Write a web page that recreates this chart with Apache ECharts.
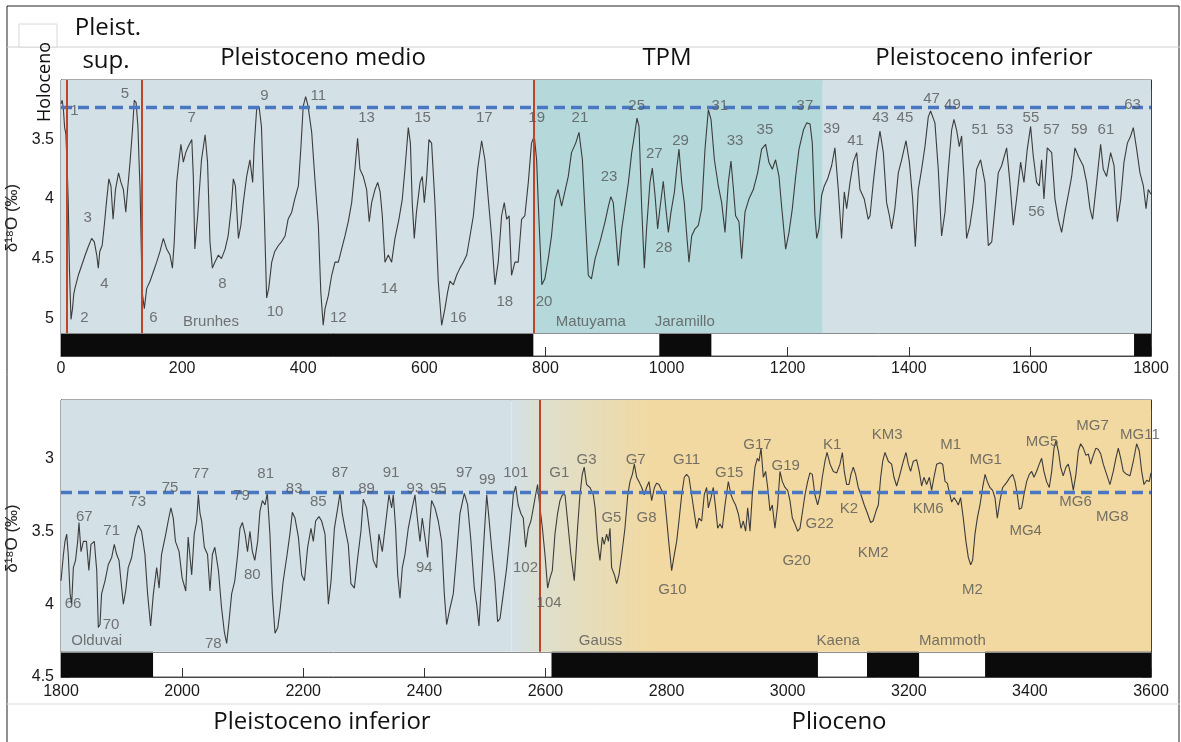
<!DOCTYPE html>
<html><head><meta charset="utf-8">
<script src="https://cdn.jsdelivr.net/npm/echarts@6/dist/echarts.min.js"></script>
<style>html,body{margin:0;padding:0;background:#fff}#c{width:1181px;height:742px}</style>
</head><body><div id="c"></div>
<script>
// ---------------- DATA ----------------
const topCurve = [[0,3.2],[2,3.17],[4,3.25],[6,3.4],[8,3.45],[10,3.7],[12,4.03],[14,4.6],[16.5,5.01],[19,4.92],[21,4.8],[23,4.75],[28.6,4.64],[34,4.56],[40,4.47],[45,4.4],[50.6,4.33],[55,4.36],[59,4.47],[61.6,4.58],[64,4.44],[68,4.39],[71.5,4.22],[75,4.03],[79,3.83],[82.5,3.89],[86,4.17],[90,3.92],[95,3.78],[99,3.86],[103,3.92],[107,4.11],[110,3.92],[114,3.69],[118,3.42],[121,3.17],[124,3.19],[127,3.39],[129,3.7],[130.5,3.9],[132.5,4.4],[134,4.78],[137.6,4.92],[141.5,4.75],[147,4.69],[152.5,4.61],[158,4.53],[163.5,4.44],[169,4.33],[174.5,4.42],[180,4.47],[184,4.58],[187,4.36],[191,3.86],[195,3.67],[198,3.54],[202,3.69],[206,3.61],[210,3.56],[216,3.5],[218.5,3.81],[221,4.42],[225.7,4.14],[232,3.67],[238,3.46],[242,3.69],[246,4.36],[250,4.58],[254,4.53],[260,4.47],[265,4.5],[271,4.42],[276,4.31],[281,4.08],[284.6,3.83],[288,3.89],[293,4.33],[297,4.22],[301,4.03],[306.6,3.81],[312,3.67],[316.5,3.86],[319,3.56],[323,3.25],[327,3.22],[331,3.39],[335.8,4.14],[339.6,4.83],[343,4.75],[348,4.53],[353,4.44],[359,4.39],[364,4.36],[370,4.31],[375,4.17],[381,4.11],[386,4.0],[392,3.89],[396,3.58],[400,3.22],[404,3.14],[408,3.22],[414,3.44],[419,3.81],[425,4.22],[429,4.78],[433,5.06],[436,4.92],[441.5,4.81],[447,4.64],[452.5,4.53],[458,4.53],[463.4,4.42],[469,4.31],[474.4,4.19],[480,4.03],[484.3,3.81],[489.8,3.49],[493.7,3.75],[499.2,3.81],[504.7,3.92],[509,4.19],[513,4.03],[518.5,3.92],[523,3.86],[527,3.94],[530.6,4.14],[535,4.53],[540.5,4.47],[546,4.53],[551.5,4.33],[558,4.17],[563.6,4.0],[568,3.75],[573.5,3.4],[577,3.53],[580,4.03],[583.4,4.33],[587,4.11],[593,3.86],[596.6,3.81],[600,4.03],[604,3.81],[607.6,3.5],[612,3.53],[617.5,4.03],[623,4.69],[628.6,5.06],[634,4.92],[638.5,4.78],[642.3,4.69],[648,4.72],[653.3,4.64],[658.8,4.58],[664.3,4.53],[670,4.47],[675.4,4.31],[681,4.14],[688,3.75],[694.6,3.51],[700,3.67],[705.6,4.0],[711,4.31],[716.6,4.72],[722,4.53],[727.6,4.14],[732,4.03],[736,4.17],[740,4.14],[744,4.64],[749.6,4.53],[755,4.53],[760.6,4.17],[766,4.14],[771.7,3.86],[777,3.53],[781.6,3.47],[785.4,3.67],[789,4.14],[794,4.72],[799,4.67],[804.7,4.5],[810,4.31],[815.7,4.0],[821,3.92],[826.7,4.06],[832,3.94],[837.7,3.81],[843,3.61],[850,3.53],[855.4,3.44],[861,3.67],[865,4.08],[870.8,4.64],[876,4.67],[882,4.5],[890,4.36],[898.5,4.19],[904,4.06],[908,3.98],[912,4.03],[916,4.28],[920.3,4.56],[926,4.25],[931.4,4.06],[937,3.86],[942.4,3.61],[946.8,3.47],[951.2,3.32],[954.5,3.39],[959,4.08],[963.3,4.58],[967,4.25],[972.6,3.86],[976.5,3.74],[981,3.97],[985.3,4.25],[989,4.08],[994.6,3.85],[998.5,4.06],[1003,4.28],[1007.3,4.11],[1013,3.94],[1016.7,3.75],[1020.5,3.58],[1025,3.86],[1029.3,4.03],[1033,4.28],[1037,4.53],[1041.5,4.31],[1047,4.25],[1052.5,4.22],[1058,4.08],[1063.5,3.58],[1069,3.25],[1073.4,3.33],[1079,3.67],[1085.5,3.89],[1091,4.03],[1096.5,4.28],[1102,3.86],[1106.4,3.68],[1110,3.89],[1114,4.14],[1119.6,4.19],[1124,4.5],[1129.5,4.11],[1136,4.0],[1143.3,3.92],[1150.4,3.78],[1157,3.58],[1163.6,3.54],[1169,3.69],[1174.6,3.75],[1180,3.67],[1185.7,3.81],[1190,4.06],[1196.7,4.42],[1202.2,4.28],[1207.7,4.08],[1213.2,3.81],[1218.7,3.58],[1226,3.42],[1231.4,3.36],[1237,3.37],[1240.7,3.53],[1245,4.14],[1248,4.33],[1251.7,4.25],[1256,3.97],[1260.5,3.89],[1266,3.83],[1272.6,3.72],[1278,3.57],[1283.6,3.92],[1289,4.33],[1293.5,3.94],[1297.4,4.08],[1303,3.86],[1308.4,3.69],[1314,3.61],[1319.4,3.92],[1326.5,4.0],[1333,4.17],[1336,4.14],[1341.4,3.86],[1347,3.61],[1352.4,3.43],[1358,3.61],[1363.4,4.03],[1368,4.14],[1371.7,4.25],[1377,4.08],[1382.7,3.78],[1388.2,3.67],[1395.4,3.51],[1401,3.69],[1406.4,4.0],[1410.8,4.4],[1415.7,3.92],[1421.2,3.75],[1426.7,3.56],[1432.2,3.31],[1436,3.26],[1443.2,3.36],[1448.7,3.75],[1454.2,4.31],[1459.8,4.11],[1465.3,3.75],[1470.8,3.42],[1474.6,3.33],[1479,3.42],[1483.4,3.56],[1487.3,3.47],[1491,3.81],[1495.5,4.33],[1501,4.22],[1506.5,4.03],[1512,3.75],[1518.6,3.67],[1525.8,3.86],[1531.3,4.39],[1537,4.36],[1542.3,4.08],[1547.8,3.78],[1553.3,3.72],[1561.6,3.57],[1567,3.86],[1572.6,4.22],[1578,4.0],[1584.7,3.69],[1590.2,3.86],[1595.7,3.58],[1601.2,3.39],[1605.6,3.64],[1611.1,3.86],[1615.5,3.89],[1619.4,3.67],[1623.2,4.0],[1628.7,3.57],[1636,3.61],[1641.4,4.0],[1647,4.17],[1652.4,4.28],[1658,4.11],[1665,3.92],[1669,3.81],[1674.4,3.57],[1680,3.64],[1688,3.72],[1693.7,3.86],[1699.2,4.08],[1703.6,4.17],[1710.2,3.86],[1716.8,3.54],[1721.2,3.75],[1726.7,3.81],[1733.3,3.61],[1739,3.72],[1744.4,4.19],[1750,4.0],[1755.4,3.69],[1761,3.53],[1766.4,3.47],[1770.8,3.4],[1776.3,3.58],[1781.8,3.78],[1787.4,3.89],[1791.8,4.08],[1795.5,3.92],[1800,3.96]];

const bottomCurve = [[1800,3.84],[1804,3.66],[1806.6,3.57],[1809.4,3.52],[1812,3.66],[1815,3.93],[1817.6,4.0],[1820.4,3.75],[1824,3.7],[1827.5,3.57],[1829.7,3.44],[1833,3.64],[1837,3.57],[1842,3.57],[1846,3.77],[1849.5,3.59],[1855,3.57],[1859,3.77],[1861.6,4.16],[1864.4,4.14],[1867,3.93],[1872.7,3.84],[1878,3.73],[1883.7,3.68],[1888,3.59],[1892,3.66],[1895.8,3.7],[1899,3.84],[1903,4.0],[1906.8,3.91],[1911,3.75],[1916.7,3.68],[1922,3.54],[1927.7,3.46],[1933,3.5],[1938.6,3.66],[1943,3.93],[1948,4.15],[1952.5,3.93],[1958,3.75],[1962,3.89],[1966,3.66],[1973,3.52],[1977,3.43],[1981.5,3.34],[1985.4,3.41],[1989,3.57],[1995,3.64],[2000,3.82],[2006,3.91],[2010,3.54],[2015.8,3.8],[2020,3.52],[2024,3.43],[2026.8,3.25],[2029.6,3.38],[2032.3,3.43],[2036.7,3.61],[2042,3.66],[2046,3.91],[2050,3.66],[2054,3.61],[2060,3.77],[2065,4.02],[2069.7,4.19],[2073.6,4.27],[2077.4,4.12],[2081.8,3.93],[2087,3.84],[2091.7,3.66],[2095.6,3.48],[2099.5,3.44],[2104,3.52],[2108,3.64],[2112,3.5],[2116,3.64],[2120,3.7],[2124.8,3.57],[2128.6,3.36],[2132.6,3.29],[2137,3.32],[2140.7,3.24],[2145,3.52],[2149,3.93],[2153.4,4.2],[2158,4.16],[2161.6,4.05],[2167,3.84],[2172.7,3.68],[2178,3.52],[2182,3.37],[2186.4,3.41],[2192,3.54],[2197.5,3.8],[2202,3.84],[2207.3,3.61],[2212.8,3.48],[2216.7,3.57],[2220.5,3.43],[2226,3.4],[2230.4,3.43],[2236,3.52],[2241.5,4.0],[2246,3.84],[2251.5,3.48],[2257,3.34],[2260.7,3.24],[2264.5,3.38],[2269,3.48],[2274.4,3.59],[2278.8,3.86],[2284.4,3.89],[2290,3.68],[2295.3,3.5],[2299.2,3.28],[2304.7,3.34],[2310.2,3.52],[2315.7,3.7],[2321.2,3.75],[2325,3.52],[2330.6,3.64],[2336,3.45],[2341.6,3.25],[2346,3.34],[2348.7,3.25],[2352.6,3.48],[2356,3.8],[2359.8,3.96],[2363.6,3.75],[2368,3.66],[2373.5,3.48],[2380,3.34],[2384.5,3.25],[2389,3.43],[2392.8,3.57],[2396.6,3.41],[2401,3.54],[2405.4,3.68],[2409.3,3.43],[2412,3.29],[2417.5,3.34],[2423,3.43],[2428.6,3.57],[2433,3.93],[2436.8,4.14],[2442.3,4.03],[2447.8,3.93],[2453.3,3.66],[2458.8,3.38],[2466,3.24],[2471.5,3.32],[2477,3.57],[2482.5,3.89],[2486.4,4.0],[2490.2,4.15],[2494.6,3.84],[2499,3.52],[2503,3.25],[2506.7,3.41],[2511,3.61],[2516.6,3.84],[2521,4.12],[2525,4.1],[2530.4,3.93],[2536,3.75],[2541.4,3.52],[2547,3.25],[2550.8,3.19],[2555,3.32],[2559.6,3.38],[2563.4,3.41],[2567.3,3.61],[2571.7,3.48],[2576,3.43],[2580,3.34],[2583.8,3.25],[2587,3.18],[2591,3.34],[2595,3.48],[2599.2,3.66],[2603.6,3.89],[2607.5,3.82],[2611.3,3.77],[2615.7,3.52],[2620,3.38],[2624,3.29],[2628,3.25],[2632.3,3.25],[2636.6,3.43],[2642,3.66],[2647.6,3.84],[2653,3.48],[2657,3.25],[2660.8,3.11],[2664,3.06],[2668,3.18],[2673.5,3.2],[2679,3.25],[2682,3.34],[2686,3.57],[2690,3.7],[2694,3.54],[2697,3.59],[2701,3.52],[2704,3.57],[2706.6,3.48],[2709.3,3.75],[2714,3.8],[2717.6,3.86],[2721.4,3.8],[2726,3.66],[2731.3,3.48],[2736,3.25],[2739.6,3.16],[2743.5,3.11],[2746.8,3.04],[2750.6,3.13],[2754.5,3.16],[2759,3.2],[2763.3,3.25],[2767,3.2],[2771,3.16],[2775.4,3.29],[2780,3.2],[2783.6,3.17],[2787.5,3.18],[2792,3.22],[2796.3,3.25],[2800,3.41],[2804,3.59],[2808.4,3.77],[2812.8,3.66],[2816.7,3.57],[2820.5,3.43],[2825,3.25],[2829.3,3.13],[2833.2,3.11],[2837,3.13],[2841.4,3.25],[2846,3.38],[2849.7,3.48],[2853.5,3.41],[2858,3.43],[2862.3,3.25],[2866.2,3.2],[2869,3.34],[2873.4,3.27],[2877.2,3.2],[2881,3.34],[2884.4,3.48],[2888.2,3.45],[2892,3.48],[2896.5,3.32],[2902,3.16],[2906.4,3.25],[2910.2,3.29],[2914,3.32],[2918.5,3.38],[2923,3.48],[2926.7,3.43],[2930.6,3.5],[2934,3.34],[2937.8,3.5],[2941.6,3.25],[2946,3.06],[2949.9,3.0],[2952.6,3.02],[2956,2.93],[2959.8,3.13],[2963.6,3.09],[2967,3.2],[2970.8,3.36],[2974.6,3.32],[2979,3.48],[2983.5,3.32],[2987.3,3.09],[2991.2,3.16],[2995.6,3.2],[3000,3.22],[3003.8,3.29],[3007.7,3.41],[3012,3.45],[3016.5,3.5],[3020.3,3.48],[3024,3.38],[3028.6,3.25],[3033,3.16],[3036.8,3.1],[3040.7,3.11],[3045,3.25],[3049.5,3.32],[3053.4,3.25],[3057.2,3.13],[3061.6,3.02],[3065,2.96],[3070,3.04],[3075.4,3.09],[3081,3.1],[3086.4,3.04],[3090.3,2.96],[3093.5,3.09],[3097.4,3.18],[3101.2,3.18],[3104.5,3.11],[3108.4,3.06],[3112.2,3.11],[3116.6,3.2],[3121,3.25],[3126.5,3.32],[3132,3.38],[3137,3.44],[3141,3.43],[3146,3.36],[3149.7,3.32],[3153.6,3.13],[3157,3.02],[3160.7,2.96],[3166.2,3.02],[3171.7,3.04],[3175.5,3.13],[3180,3.19],[3185.4,3.11],[3191,3.02],[3195.4,2.96],[3199.2,3.04],[3203,3.09],[3207.5,3.02],[3213,3.01],[3217.3,3.09],[3221.2,3.19],[3225,3.13],[3229.5,3.18],[3234,3.13],[3237.7,3.22],[3241.6,3.13],[3246,3.04],[3251.5,3.03],[3256,3.04],[3260,3.16],[3263.6,3.17],[3268,3.25],[3270.8,3.3],[3274.6,3.27],[3278,3.29],[3281.8,3.32],[3285.6,3.27],[3290,3.41],[3294.4,3.57],[3298.3,3.68],[3302.2,3.73],[3305.4,3.7],[3309.3,3.52],[3313.2,3.41],[3317.6,3.32],[3322,3.2],[3326,3.11],[3329.7,3.16],[3334,3.2],[3338.5,3.22],[3342.3,3.27],[3346.2,3.41],[3350.6,3.29],[3355,3.2],[3358.8,3.18],[3362.7,3.16],[3367,3.13],[3371.5,3.11],[3375.4,3.16],[3379.2,3.25],[3382.5,3.35],[3386.4,3.34],[3390.2,3.25],[3394.6,3.16],[3399,3.11],[3403,3.09],[3406.7,3.13],[3411,3.09],[3415.5,3.04],[3419.4,3.0],[3423.2,3.09],[3427.6,3.16],[3432,3.2],[3436,3.09],[3439.8,2.93],[3443,2.88],[3447,2.95],[3450.8,3.06],[3455,3.12],[3459.6,3.06],[3463.4,3.04],[3467.3,3.11],[3471.7,3.22],[3476,3.11],[3480,2.95],[3483.8,2.9],[3488.2,2.93],[3492.6,2.98],[3496.5,2.97],[3500.3,3.04],[3504.7,2.98],[3509,2.93],[3513,2.94],[3517,2.97],[3521.2,3.04],[3526.7,3.11],[3532.2,3.18],[3537.7,3.09],[3542,3.0],[3546,2.93],[3550,3.0],[3554.2,3.09],[3559.8,3.11],[3565.3,3.12],[3570.8,3.02],[3576.3,2.9],[3580.7,2.95],[3584.6,3.09],[3588.4,3.18],[3592.9,3.15],[3597,3.16],[3600,3.1]];

const topXRange = [0, 1800];
const bottomXRange = [1800, 3600];
const xTickStep = 200;
const topYRange = [3.0, 5.318];
const bottomYRange = [2.6, 4.5];
const topYLabels = [3.5, 4, 4.5, 5];
const bottomYLabels = [3, 3.5, 4, 4.5];
const topPlotFloor = 5.125;     // value where the polarity bar begins
const bottomPlotFloor = 4.327;
const holoceneLevel = 3.23;
const topZones = [[0, 780], [780, 1258], [1258, 1800]];
const bottomZones = [[1800, 2544], [2544, 3600]];
const bottomTransition = [2544, 2780];   // Pleistocene -> Pliocene colour fade
const topNormalPolarity = [[0, 780], [988, 1074], [1772, 1800]];
const bottomNormalPolarity = [[1800, 1952], [2610, 3050], [3131, 3217], [3326, 3600]];
const topBoundaries = [9.5, 133, 780];
const bottomBoundaries = [2590];
const topStageLabels = [[22,3.26,'1'],[38.5,5.0,'2'],[44,4.16,'3'],[71.5,4.71,'4'],[105.7,3.12,'5'],[152.5,5.0,'6'],[215.8,3.32,'7'],[266.4,4.71,'8'],[335.8,3.13,'9'],[353.4,4.95,'10'],[425,3.13,'11'],[458,5.0,'12'],[504.7,3.32,'13'],[542,4.75,'14'],[597,3.32,'15'],[656,5.0,'16'],[699,3.32,'17'],[733,4.86,'18'],[785.5,3.32,'19'],[797.6,4.86,'20'],[857,3.32,'21'],[905,3.81,'23'],[950.6,3.22,'25'],[979.7,3.62,'27'],[995.7,4.41,'28'],[1023,3.51,'29'],[1088,3.22,'31'],[1113,3.51,'33'],[1162.5,3.42,'35'],[1228.5,3.22,'37'],[1272.6,3.41,'39'],[1312,3.51,'41'],[1353.5,3.32,'43'],[1393.6,3.32,'45'],[1437.7,3.16,'47'],[1472,3.21,'49'],[1517.5,3.42,'51'],[1558.8,3.42,'53'],[1601.7,3.32,'55'],[1611,4.11,'56'],[1635.8,3.42,'57'],[1681.5,3.42,'59'],[1725.5,3.42,'61'],[1769.6,3.21,'63']];
const bottomStageLabels = [[1820,4.0,'66'],[1838.5,3.40,'67'],[1882.6,4.14,'70'],[1883.7,3.50,'71'],[1926.6,3.30,'73'],[1980,3.20,'75'],[2030.7,3.11,'77'],[2051.5,4.27,'78'],[2098,3.26,'79'],[2116,3.80,'80'],[2138,3.11,'81'],[2185,3.21,'83'],[2225,3.30,'85'],[2260.7,3.10,'87'],[2304.7,3.21,'89'],[2345,3.10,'91'],[2384.5,3.21,'93'],[2400,3.75,'94'],[2423,3.21,'95'],[2466,3.10,'97'],[2504,3.15,'99'],[2551,3.10,'101'],[2567,3.75,'102'],[2606,3.99,'104'],[2623,3.10,'G1'],[2668,3.01,'G3'],[2709,3.41,'G5'],[2749,3.01,'G7'],[2767,3.41,'G8'],[2809.5,3.90,'G10'],[2833,3.01,'G11'],[2903.6,3.10,'G15'],[2950,2.91,'G17'],[2996.7,3.05,'G19'],[3014.8,3.70,'G20'],[3053,3.45,'G22'],[3073.6,2.91,'K1'],[3101,3.35,'K2'],[3141,3.65,'KM2'],[3164.5,2.84,'KM3'],[3232,3.35,'KM6'],[3269,2.91,'M1'],[3305,3.90,'M2'],[3327,3.01,'MG1'],[3393,3.50,'MG4'],[3420,2.89,'MG5'],[3475.5,3.30,'MG6'],[3503.5,2.78,'MG7'],[3536,3.40,'MG8'],[3581.7,2.84,'MG11']];
const topChronLabels = [[247.7,5.03,'Brunhes'],[875,5.03,'Matuyama'],[1030,5.03,'Jaramillo']];
const bottomChronLabels = [[1859,4.25,'Olduvai'],[2691,4.25,'Gauss'],[3083.5,4.25,'Kaena'],[3272,4.25,'Mammoth']];

// ---------------- STYLE ----------------
const SANS = '"Liberation Sans", Arial, Helvetica, sans-serif';
const TITLE = '"Open Sans", "Noto Sans", sans-serif';
const C_BLUE = '#d3e0e6', C_TEAL = '#b5d8da', C_ORANGE = '#f2d9a1';
const topZoneColors = [C_BLUE, C_TEAL, C_BLUE];
const fadeSpan = bottomZones[1][1] - bottomZones[1][0];
const fadeEnd = (bottomTransition[1] - bottomZones[1][0]) / fadeSpan;
const bottomZoneColors = [C_BLUE,
  {type:'linear', x:0, y:0, x2:1, y2:0, colorStops:[
    {offset:0, color:C_BLUE}, {offset:fadeEnd*0.25, color:'#dfdfcb'}, {offset:fadeEnd, color:C_ORANGE}, {offset:1, color:C_ORANGE}]}];

function zoneAreas(zones, colors, y0, y1) {
  return zones.map((z, i) => [{xAxis: z[0], yAxis: y0, itemStyle: {color: colors[i]}}, {xAxis: z[1], yAxis: y1}]);
}
function polAreas(zones, y0, y1) {
  return zones.map(z => [{xAxis: z[0], yAxis: y0, itemStyle: {color: '#0b0b0b'}}, {xAxis: z[1], yAxis: y1}]);
}
function xAx(grid, range, pos, showLabel, margin) {
  return {type:'value', gridIndex:grid, min:range[0], max:range[1], interval:xTickStep, position:pos,
    axisLine:{show: pos === 'bottom', onZero:false, lineStyle:{color:'#444', width:1}},
    axisTick:{show:true, inside:true, length:9, lineStyle:{color:'#333', width:1}},
    axisLabel:{show:showLabel, fontSize:16, color:'#1a1a1a', fontFamily:SANS, margin:margin, formatter: v => String(v)},
    splitLine:{show:false}};
}
function yAx(grid, range, pos, labels, showLabel) {
  return {type:'value', gridIndex:grid, min:range[0], max:range[1], inverse:true, position:pos,
    axisLine:{show:true, onZero:false, lineStyle:{color:'#444', width:1}},
    axisTick:{show:true, inside:true, length:9, customValues:labels, lineStyle:{color:'#333', width:1}},
    axisLabel:{show:showLabel, customValues:labels, fontSize:16, color:'#1a1a1a', fontFamily:SANS, margin:7, formatter: v => String(v)},
    splitLine:{show:false},
    name: showLabel ? 'δ¹⁸O (‰)' : '', nameLocation:'middle', nameGap:30, nameRotate:90,
    nameTextStyle:{fontSize:17, color:'#222', fontFamily:SANS}};
}
function labelSeries(xi, yi, items) {
  return {type:'scatter', xAxisIndex:xi, yAxisIndex:yi, z:5, silent:true, symbol:'circle', symbolSize:0,
    itemStyle:{color:'rgba(0,0,0,0)'},
    data: items.map(s => ({value:[s[0], s[1]], name:s[2]})),
    label:{show:true, position:'inside', formatter:'{b}', fontSize:15, color:'#555', fontFamily:SANS,
      align:'center', verticalAlign:'middle'},
    emphasis:{disabled:true}};
}
function panelSeries(xi, yi, curve, zones, zoneColors, pol, floor, yRange, bounds, stages, chrons) {
  return [
    {type:'line', xAxisIndex:xi, yAxisIndex:yi, data:[], z:1, silent:true,
      markArea:{silent:true, data: zoneAreas(zones, zoneColors, yRange[0], floor).concat(polAreas(pol, floor, yRange[1]))}},
    {type:'line', xAxisIndex:xi, yAxisIndex:yi, data:curve, z:3, showSymbol:false, symbol:'none', silent:true,
      lineStyle:{color:'#3c3c3c', width:1.1}},
    {type:'line', xAxisIndex:xi, yAxisIndex:yi, data:[], z:4, silent:true,
      markLine:{silent:true, symbol:['none','none'], label:{show:false},
        data: [
          {yAxis: floor, lineStyle:{color:'#8c8c8c', width:1, type:'solid'}},
          {yAxis: holoceneLevel, lineStyle:{color:'#4a77c2', width:3.3, type:[11,6]}}
        ].concat(bounds.map(b => [{coord:[b, yRange[0]], lineStyle:{color:'#bf4526', width:2, type:'solid'}}, {coord:[b, floor]}]))}},
    labelSeries(xi, yi, stages),
    labelSeries(xi, yi, chrons)
  ];
}

function txt(x, y, text, size, rot) {
  return {type:'text', x:x, y:y, rotation: rot || 0, z:100,
    style:{text:text, font: size + 'px ' + TITLE, fill:'#111', textAlign:'center', textVerticalAlign:'middle'}};
}

const chart = echarts.init(document.getElementById('c'), null, {renderer:'canvas'});
chart.setOption({
  animation:false,
  backgroundColor:'#ffffff',
  grid:[
    {left:61, right:30, top:80, height:276, show:true, borderColor:'#555', borderWidth:1, backgroundColor:'transparent', containLabel:false, outerBoundsMode:'none'},
    {left:61, right:30, top:400, height:277, show:true, borderColor:'#555', borderWidth:1, backgroundColor:'transparent', containLabel:false, outerBoundsMode:'none'}
  ],
  xAxis:[ xAx(0, topXRange, 'bottom', true, 5), xAx(0, topXRange, 'top', false, 5),
          xAx(1, bottomXRange, 'bottom', true, 7), xAx(1, bottomXRange, 'top', false, 7) ],
  yAxis:[ yAx(0, topYRange, 'left', topYLabels, true), yAx(0, topYRange, 'right', topYLabels, false),
          yAx(1, bottomYRange, 'left', bottomYLabels, true), yAx(1, bottomYRange, 'right', bottomYLabels, false) ],
  series: panelSeries(0, 0, topCurve, topZones, topZoneColors, topNormalPolarity, topPlotFloor, topYRange, topBoundaries, topStageLabels, topChronLabels)
    .concat(panelSeries(2, 2, bottomCurve, bottomZones, bottomZoneColors, bottomNormalPolarity, bottomPlotFloor, bottomYRange, bottomBoundaries, bottomStageLabels, bottomChronLabels)),
  graphic:[
    {type:'rect', shape:{x:7, y:6, width:1172, height:745}, style:{fill:'none', stroke:'#222', lineWidth:1}, z:90, silent:true},
    {type:'line', shape:{x1:7, y1:47, x2:1180, y2:47}, style:{stroke:'#cfcfcf', lineWidth:1}, z:90, silent:true},
    {type:'line', shape:{x1:7, y1:704, x2:1180, y2:704}, style:{stroke:'#dcdcdc', lineWidth:1}, z:90, silent:true},
    {type:'rect', shape:{x:19, y:24, width:38, height:23}, style:{fill:'#fff', stroke:'#d8d8d8', lineWidth:1}, z:91, silent:true},
    txt(108, 28, 'Pleist.', 24),
    txt(106, 61, 'sup.', 24),
    txt(323, 58, 'Pleistoceno medio', 24),
    txt(667, 58, 'TPM', 24),
    txt(984, 58, 'Pleistoceno inferior', 24),
    txt(322, 722, 'Pleistoceno inferior', 24),
    txt(839, 722, 'Plioceno', 24),
    txt(45, 82, 'Holoceno', 18, Math.PI/2)
  ]
});
</script></body></html>
